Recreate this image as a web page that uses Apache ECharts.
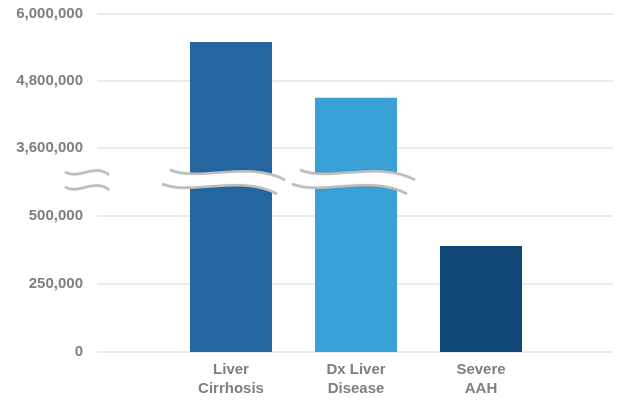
<!DOCTYPE html>
<html>
<head>
<meta charset="utf-8">
<script src="https://cdn.jsdelivr.net/npm/echarts@6/dist/echarts.min.js"></script>
<style>html,body{margin:0;padding:0;background:#fff}#c{width:620px;height:403px}</style>
</head>
<body>
<div id="c"></div>
<script>
// ---- data ----
const categories = ['Liver\nCirrhosis', 'Dx Liver\nDisease', 'Severe\nAAH'];
const values = [5500000, 4500000, 390000];
const barColors = ['#2565a0', '#3aa1d6', '#0f4877'];
const upperTicks = [3600000, 4800000, 6000000];
const lowerTicks = [0, 250000, 500000];

// ---- layout ----
const upTop = 14, upBottom = 148;      // 6,000,000 .. 3,600,000
const loTop = 216, loBottom = 352;     // 500,000 .. 0
const splitY = 182;                    // where the bars switch segments
const upMin = upperTicks[0], upMax = upperTicks[upperTicks.length - 1];
const loMin = lowerTicks[0], loMax = lowerTicks[lowerTicks.length - 1];
const upPerPx = (upMax - upMin) / (upBottom - upTop);
const loPerPx = (loMax - loMin) / (loBottom - loTop);
const barUpMin = upMax - (splitY - upTop) * upPerPx;
const barLoMax = (loBottom - splitY) * loPerPx;

const lineLeft = 97, lineRight = 7;
const barLeft = 168.5, barRight = 76.5;
const txt = '#7f7f7f';
const font = { fontFamily: 'Liberation Sans, Arial, sans-serif', fontWeight: 'bold', fontSize: 15, color: txt };
const fmt = v => v.toLocaleString('en-US');

const chart = echarts.init(document.getElementById('c'), null, { renderer: 'canvas' });

const hiddenX = { type: 'category', data: categories, show: false };
const option = {
  backgroundColor: '#fff',
  animation: false,
  grid: [
    { left: lineLeft, right: lineRight, top: upTop, height: upBottom - upTop },
    { left: lineLeft, right: lineRight, top: loTop, height: loBottom - loTop },
    { left: barLeft, right: barRight, top: upTop, height: splitY - upTop },
    { left: barLeft, right: barRight, top: splitY, height: loBottom - splitY }
  ],
  xAxis: [
    Object.assign({ gridIndex: 0 }, hiddenX),
    Object.assign({ gridIndex: 1 }, hiddenX),
    Object.assign({ gridIndex: 2 }, hiddenX),
    {
      gridIndex: 3, type: 'category', data: categories,
      axisLine: { show: false }, axisTick: { show: false },
      axisLabel: Object.assign({ margin: 8, lineHeight: 19, align: 'center' }, font)
    }
  ],
  yAxis: [
    {
      gridIndex: 0, type: 'value', min: upMin, max: upMax, interval: 1200000,
      axisLine: { show: false }, axisTick: { show: false },
      splitLine: { lineStyle: { color: '#e4e4e4', width: 1.5 } },
      axisLabel: Object.assign({ margin: 14, formatter: fmt }, font)
    },
    {
      gridIndex: 1, type: 'value', min: loMin, max: loMax, interval: 250000,
      axisLine: { show: false }, axisTick: { show: false },
      splitLine: { lineStyle: { color: '#e4e4e4', width: 1.5 } },
      axisLabel: Object.assign({ margin: 14, formatter: fmt }, font)
    },
    { gridIndex: 2, type: 'value', min: barUpMin, max: upMax, show: false, splitLine: { show: false } },
    { gridIndex: 3, type: 'value', min: 0, max: barLoMax, show: false, splitLine: { show: false } }
  ],
  series: [
    {
      type: 'bar', xAxisIndex: 2, yAxisIndex: 2, barWidth: 82, clip: true,
      data: values.map((v, i) => ({ value: v > barUpMin ? v : '-', itemStyle: { color: barColors[i] } }))
    },
    {
      type: 'bar', xAxisIndex: 3, yAxisIndex: 3, barWidth: 82, clip: true,
      data: values.map((v, i) => ({ value: v, itemStyle: { color: barColors[i] } }))
    }
  ],
  graphic: []
};

// break marks (decorative)
const brk = '#bdbdbd';
function bez(p0, c1, c2, p1, n) {
  const pts = [];
  for (let i = 0; i <= n; i++) {
    const t = i / n, u = 1 - t;
    const a = u * u * u, b = 3 * u * u * t, c = 3 * u * t * t, d = t * t * t;
    pts.push([a * p0[0] + b * c1[0] + c * c2[0] + d * p1[0], a * p0[1] + b * c1[1] + c * c2[1] + d * p1[1]]);
  }
  return pts;
}
function curve(p0, c1, c2, p1, z) {
  return {
    type: 'bezierCurve', z: z || 101,
    shape: { x1: p0[0], y1: p0[1], cpx1: c1[0], cpy1: c1[1], cpx2: c2[0], cpy2: c2[1], x2: p1[0], y2: p1[1] },
    style: { fill: null, stroke: brk, lineWidth: 2.5, shadowBlur: 2, shadowColor: 'rgba(0,0,0,0.12)' }
  };
}
function bandBreak(dx) {
  const T = [[170 + dx, 170], [200 + dx, 182], [250 + dx, 160], [285 + dx, 180]];
  const B = [[162 + dx, 184], [192 + dx, 196], [242 + dx, 174], [277 + dx, 194]];
  const pts = bez(T[0], T[1], T[2], T[3], 30).concat(bez(B[3], B[2], B[1], B[0], 30));
  return [
    { type: 'polygon', z: 100, shape: { points: pts }, style: { fill: '#fff', stroke: null } },
    curve(T[0], T[1], T[2], T[3]),
    curve(B[0], B[1], B[2], B[3])
  ];
}
option.graphic = option.graphic.concat(bandBreak(0), bandBreak(130));
[172, 187].forEach(y => {
  option.graphic.push(curve([65, y], [78, y + 8], [95, y - 9], [109, y + 3]));
});

chart.setOption(option);
</script>
</body>
</html>
